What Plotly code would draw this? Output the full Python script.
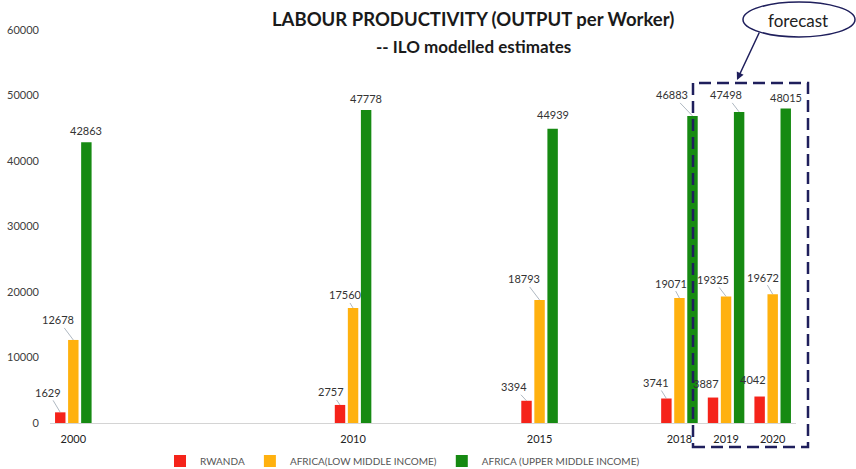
import plotly.graph_objects as go

# ---------------- data ----------------
years = ["2000", "2010", "2015", "2018", "2019", "2020"]
series_names = ["RWANDA", "AFRICA(LOW MIDDLE INCOME)", "AFRICA (UPPER MIDDLE INCOME)"]
rwanda = [1629, 2757, 3394, 3741, 3887, 4042]
africa_low = [12678, 17560, 18793, 19071, 19325, 19672]
africa_upper = [42863, 47778, 44939, 46883, 47498, 48015]
y_ticks = [0, 10000, 20000, 30000, 40000, 50000, 60000]

# ---------------- style / layout ----------------
colors = ["#f5231a", "#ffb10f", "#168a12"]
# empty category slots after each year (visual spacing of original chart)
spacer_after = [5, 3, 2, 0, 0, 0]
# label offsets (px) relative to bar top, per series
label_offsets = [
    [(-12, -20), (-9, -13), (-13, -14), (-10, -16), (-7, -14), (-7, -17)],
    [(-15, -20), (-8, -13), (-16, -21), (-8, -15), (-13, -17), (-10, -17)],
    [(0, -12), (0, -12), (0, -14), (-20, -21), (-13, -17), (0, -11)],
]
FONT = "Lato"
W, H = 856, 469
ML, MR, MT, MB = 50, 60, 30, 46
PW, PH = W - ML - MR, H - MT - MB


def px(xp):
    return (xp - ML) / PW


def py(yp):
    return (H - MB - yp) / PH


categories = []
cat_index = {}
sp = 0
for yr, n in zip(years, spacer_after):
    cat_index[yr] = len(categories)
    categories.append(yr)
    for _ in range(n):
        sp += 1
        categories.append(" " * sp)

bargap, bargroupgap = 0.16, 0.2
offset_step = (1 - bargap) / 3

fig = go.Figure()
all_vals = [rwanda, africa_low, africa_upper]
for name, vals, col in zip(series_names, all_vals, colors):
    fig.add_trace(go.Bar(x=years, y=vals, name=name, marker=dict(color=col, line=dict(width=0))))

annotations = []
for si, vals in enumerate(all_vals):
    for yi, (yr, v) in enumerate(zip(years, vals)):
        ax, ay = label_offsets[si][yi]
        xpos = cat_index[yr] + (si - 1) * offset_step
        annotations.append(dict(
            x=xpos, y=v, xref="x", yref="y", text=str(v),
            showarrow=True, arrowhead=0, arrowwidth=0.7,
            arrowcolor="#8c9aa6" if abs(ax) >= 8 else "rgba(0,0,0,0)",
            ax=ax, ay=ay, font=dict(family=FONT, size=11, color="#333333"),
        ))

# titles
annotations.append(dict(x=px(473), y=py(19), xref="paper", yref="paper",
                        xanchor="center", yanchor="middle",
                        text="<b>LABOUR PRODUCTIVITY (OUTPUT per Worker)</b>",
                        showarrow=False, font=dict(family=FONT, size=18.5, color="#1a1a1a")))
annotations.append(dict(x=px(473), y=py(46), xref="paper", yref="paper",
                        xanchor="center", yanchor="middle",
                        text="<b>-- ILO modelled estimates</b>",
                        showarrow=False, font=dict(family=FONT, size=17, color="#1a1a1a")))
# forecast callout
annotations.append(dict(x=px(798), y=py(20), xref="paper", yref="paper", text="forecast",
                        xanchor="center", yanchor="middle",
                        showarrow=False, font=dict(family=FONT, size=17, color="#222222")))
annotations.append(dict(x=px(737), y=py(80), xref="paper", yref="paper", text="",
                        showarrow=True, arrowhead=2, arrowsize=1, arrowwidth=1.5,
                        arrowcolor="#1f1f5c", ax=23, ay=-49))

shapes = [
    dict(type="rect", xref="paper", yref="paper", x0=px(693), x1=px(808), y0=py(447), y1=py(83),
         line=dict(color="#1f1f5c", width=2.5, dash="12px,6px"), fillcolor="rgba(0,0,0,0)", layer="above"),
    dict(type="circle", xref="paper", yref="paper", x0=px(743), x1=px(855), y0=py(37), y1=py(2),
         line=dict(color="#1f1f5c", width=1.5), fillcolor="white", layer="below"),
]

fig.update_layout(
    width=W, height=H,
    margin=dict(l=ML, r=MR, t=MT, b=MB, autoexpand=False),
    paper_bgcolor="white", plot_bgcolor="white",
    barmode="group", bargap=bargap, bargroupgap=bargroupgap,
    font=dict(family=FONT, color="#333333"),
    xaxis=dict(type="category", categoryorder="array", categoryarray=categories,
               range=[-0.5, len(categories) - 0.5],
               tickmode="array", tickvals=years, ticktext=years,
               showline=True, linecolor="#d4d4d4", linewidth=1, showgrid=False,
               ticks="", ticklabelstandoff=6,
               tickfont=dict(family=FONT, size=11, color="#222222")),
    yaxis=dict(range=[0, 60000], tickvals=y_ticks, tickformat="d", showgrid=False, zeroline=False,
               showline=False, ticks="", ticklabelstandoff=10,
               tickfont=dict(family=FONT, size=11, color="#404040")),
    legend=dict(orientation="h", x=px(160), xanchor="left", y=py(461), yanchor="middle",
                font=dict(family=FONT, size=10, color="#555555"), bgcolor="rgba(0,0,0,0)"),
    annotations=annotations,
    shapes=shapes,
)

fig.write_html("out.html", config={"displayModeBar": False},
               post_script="document.body.style.margin='0';document.body.style.overflow='hidden';")
